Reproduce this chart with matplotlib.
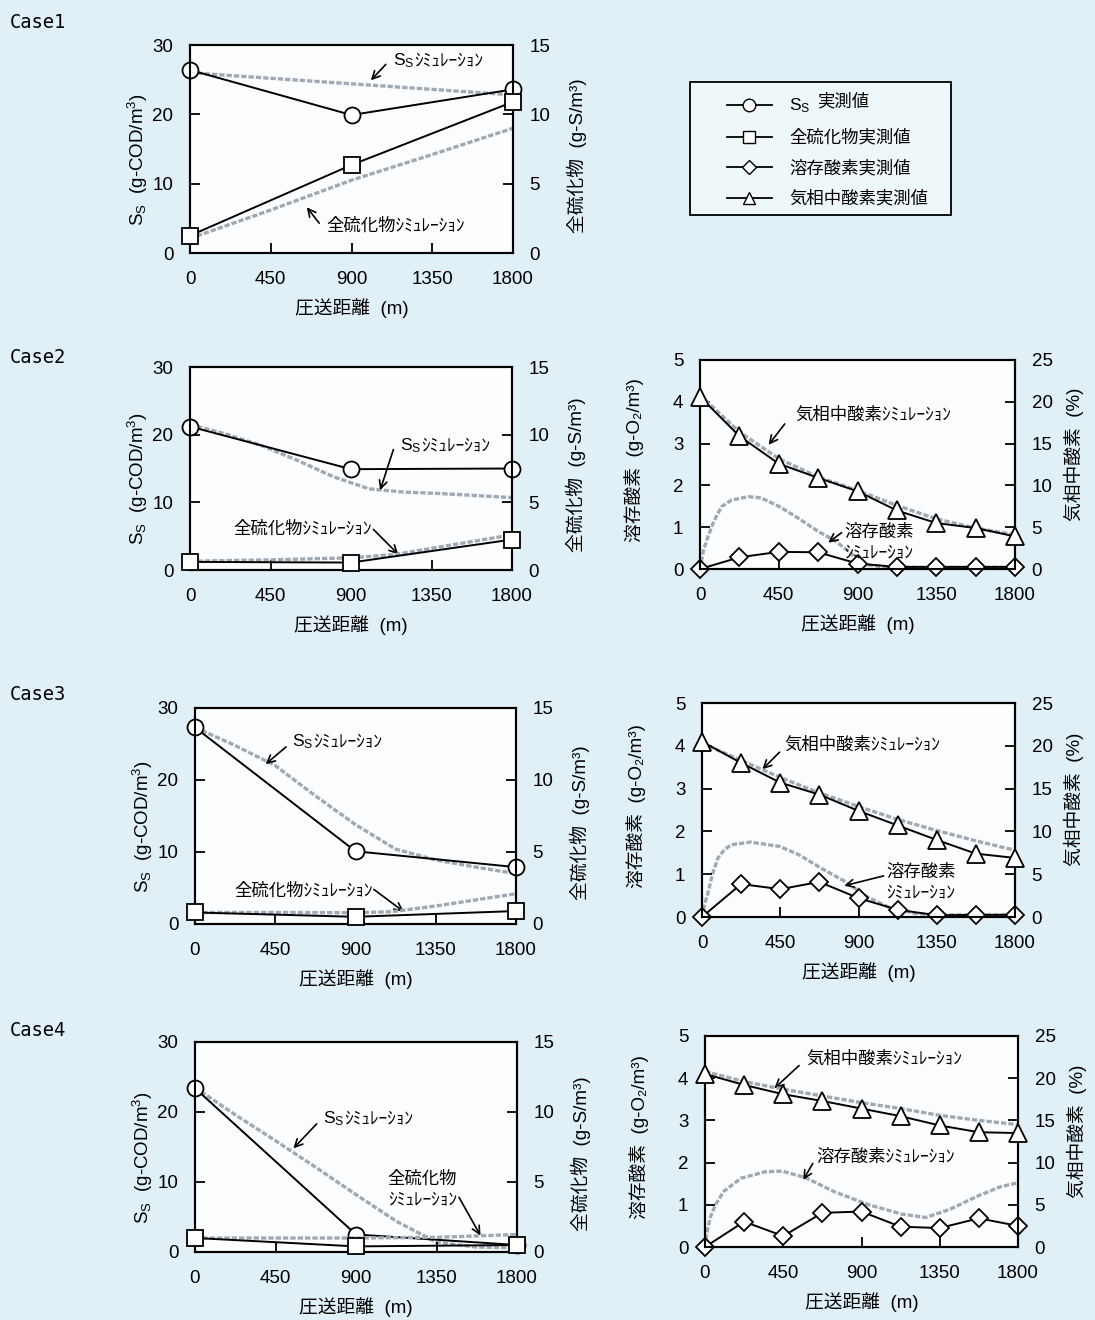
import matplotlib
matplotlib.use("Agg")
import matplotlib.pyplot as plt
from matplotlib.lines import Line2D
from matplotlib.patches import Rectangle
from matplotlib.offsetbox import TextArea, HPacker, VPacker, AnnotationBbox

plt.rcParams['font.family'] = ['Liberation Sans', 'Noto Sans CJK JP', 'DejaVu Sans']
plt.rcParams['mathtext.fontset'] = 'custom'
plt.rcParams['mathtext.rm'] = 'Liberation Sans'
plt.rcParams['mathtext.it'] = 'Liberation Sans:italic'
plt.rcParams['mathtext.bf'] = 'Liberation Sans:bold'
plt.rcParams['mathtext.default'] = 'rm'

# ---- data ----
x3 = [0, 900, 1800]
x9 = [0, 225, 450, 675, 900, 1125, 1350, 1575, 1800]

# Case1
c1_ss = [26.4, 19.9, 23.6]
c1_sulf = [1.25, 6.35, 10.9]
c1_ss_sim_x = [0, 450, 900, 1350, 1800]
c1_ss_sim = [26.0, 25.2, 24.4, 23.6, 22.8]
c1_sulf_sim_x = [0, 450, 900, 1350, 1800]
c1_sulf_sim = [1.05, 3.1, 5.25, 7.1, 9.0]

# Case2
c2_ss = [21.2, 14.9, 15.0]
c2_sulf = [0.6, 0.55, 2.25]
c2_ss_sim_x = [0, 200, 400, 600, 800, 1000, 1200, 1400, 1600, 1800]
c2_ss_sim = [21.5, 20.1, 18.4, 16.2, 13.8, 12.0, 11.5, 11.3, 11.0, 10.7]
c2_sulf_sim_x = [0, 450, 900, 1150, 1350, 1800]
c2_sulf_sim = [0.65, 0.75, 0.9, 1.15, 1.6, 2.6]
c2_do = [0, 0.28, 0.41, 0.40, 0.13, 0.05, 0.05, 0.05, 0.05]
c2_gas = [20.6, 15.9, 12.6, 10.9, 9.3, 7.0, 5.5, 4.9, 3.9]
c2_gas_sim = [20.8, 16.4, 13.2, 11.0, 9.4, 7.6, 6.0, 4.9, 4.1]
c2_do_sim_x = [0, 20, 45, 80, 123, 180, 279, 350, 455, 560, 679, 767, 850, 903, 960, 1050, 1200, 1800]
c2_do_sim = [0, 0.45, 0.77, 1.15, 1.49, 1.65, 1.73, 1.70, 1.49, 1.22, 0.89, 0.69, 0.42, 0.22, 0.10, 0.05, 0.04, 0.04]

# Case3
c3_ss = [27.3, 10.1, 7.9]
c3_sulf = [0.8, 0.5, 0.9]
c3_ss_sim_x = [0, 225, 450, 675, 900, 1125, 1350, 1575, 1800]
c3_ss_sim = [27.3, 24.8, 22.0, 17.8, 13.8, 10.4, 8.9, 7.9, 7.0]
c3_sulf_sim_x = [0, 450, 900, 1100, 1350, 1800]
c3_sulf_sim = [0.8, 0.8, 0.78, 0.85, 1.25, 2.1]
c3_do = [0, 0.77, 0.65, 0.82, 0.44, 0.17, 0.04, 0.05, 0.05]
c3_gas = [20.5, 18.0, 15.7, 14.3, 12.4, 10.7, 9.0, 7.4, 6.9]
c3_gas_sim = [20.3, 18.3, 16.3, 14.5, 12.9, 11.4, 10.1, 8.9, 7.8]
c3_do_sim_x = [0, 15, 33, 60, 92, 130, 171, 279, 446, 560, 681, 818, 955, 1073, 1230, 1400, 1800]
c3_do_sim = [0, 0.3, 0.54, 1.0, 1.38, 1.58, 1.69, 1.75, 1.65, 1.45, 1.15, 0.84, 0.46, 0.23, 0.08, 0.05, 0.05]

# Case4
c4_ss = [23.4, 2.5, 1.0]
c4_sulf = [1.0, 0.4, 0.5]
c4_ss_sim_x = [0, 225, 450, 675, 900, 1125, 1350, 1575, 1800]
c4_ss_sim = [23.5, 19.6, 15.9, 12.1, 8.2, 4.4, 1.4, 0.7, 0.6]
c4_sulf_sim_x = [0, 900, 1350, 1800]
c4_sulf_sim = [1.0, 1.0, 1.05, 1.25]
c4_do = [0, 0.60, 0.26, 0.81, 0.84, 0.48, 0.45, 0.68, 0.50]
c4_gas = [20.5, 19.2, 18.1, 17.3, 16.4, 15.5, 14.4, 13.6, 13.5]
c4_gas_sim = [20.8, 19.6, 18.7, 17.9, 17.1, 16.4, 15.6, 15.0, 14.5]
c4_do_sim_x = [0, 12, 30, 60, 108, 207, 344, 443, 580, 738, 934, 1131, 1269, 1407, 1564, 1701, 1800]
c4_do_sim = [0, 0.35, 0.70, 1.0, 1.32, 1.63, 1.78, 1.80, 1.64, 1.32, 1.01, 0.78, 0.70, 0.89, 1.20, 1.43, 1.52]

xticks = [0, 450, 900, 1350, 1800]
SIM = 'ｼﾐｭﾚｰｼｮﾝ'

# ---- figure ----
W, H = 1095, 1320
BG = '#e1f0f6'
fig = plt.figure(figsize=(W / 100, H / 100), dpi=100, facecolor=BG)

sim_kw = dict(color='#9fa9b2', lw=2.4, ls=(0, (1.6, 0.6)), zorder=1)
meas_kw = dict(color='black', lw=1.4, mfc='white', mec='black', mew=1.3, clip_on=False, zorder=5)
arrow_kw = dict(arrowstyle='->', color='black', lw=1.2, mutation_scale=14, shrinkA=0, shrinkB=0)
FS = 13.5
NFS = 12.5


def add_ax(l, t, r, b):
    ax = fig.add_axes([l / W, 1 - b / H, (r - l) / W, (b - t) / H])
    ax.set_facecolor('#fbfdfe')
    return ax


def style(ax, ax2, h_px):
    for a in (ax, ax2):
        for s in a.spines.values():
            s.set_linewidth(1.5)
        a.tick_params(axis='y', direction='in', length=7, width=1.3, labelsize=FS, pad=12)
    ax.tick_params(axis='x', direction='in', length=7, width=1.3, labelsize=FS, pad=13)
    ax.set_xlim(0, 1800)
    ax.set_xticks(xticks)
    ax.set_xlabel('圧送距離  (m)', fontsize=FS)
    ax.xaxis.set_label_coords(0.5, -45 / h_px)


def note(ax, parts, txy, tail, tip):
    # parts: list of lines, each line a list of text pieces
    lines = []
    for line in parts:
        kids = [TextArea(t, textprops=dict(fontsize=NFS)) for t in line]
        lines.append(HPacker(children=kids, align='baseline', pad=0, sep=0))
    box = VPacker(children=lines, align='left', pad=0, sep=4)
    ab = AnnotationBbox(box, txy, xycoords='data', box_alignment=(0, 0.5), frameon=False, pad=0,
                        annotation_clip=False, zorder=6)
    ax.add_artist(ab)
    ax.annotate('', xy=tip, xytext=tail, arrowprops=arrow_kw, zorder=6)


def left_panel(box, ss, sulf, ssx, sss, sfx, sfs):
    ax = add_ax(*box)
    h = box[3] - box[1]
    w = box[2] - box[0]
    ax2 = ax.twinx()
    ax.plot(ssx, sss, **sim_kw)
    ax2.plot(sfx, sfs, **sim_kw)
    ax.plot(x3, ss, marker='o', ms=11.5, **meas_kw)
    ax2.plot(x3, sulf, marker='s', ms=11.5, **meas_kw)
    ax.set_ylim(0, 30)
    ax.set_yticks([0, 10, 20, 30])
    ax2.set_ylim(0, 15)
    ax2.set_yticks([0, 5, 10, 15])
    style(ax, ax2, h)
    ax.set_ylabel('S$_S$  (g-COD/m$^3$)', fontsize=FS)
    ax.yaxis.set_label_coords(-40 / w, 0.45)
    ax2.set_ylabel('全硫化物  (g-S/m³)', fontsize=FS)
    ax2.yaxis.set_label_coords(1 + 54 / w, 0.47)
    return ax, ax2


def right_panel(box, do, gas, gas_sim, dox, dos):
    ax = add_ax(*box)
    h = box[3] - box[1]
    w = box[2] - box[0]
    ax2 = ax.twinx()
    ax.plot(dox, dos, **sim_kw)
    ax2.plot(x9, gas_sim, **sim_kw)
    ax.plot(x9, do, marker='D', ms=9, **meas_kw)
    ax2.plot(x9, gas, marker='^', ms=12.5, **meas_kw)
    ax.set_ylim(0, 5)
    ax.set_yticks(range(6))
    ax2.set_ylim(0, 25)
    ax2.set_yticks(range(0, 30, 5))
    style(ax, ax2, h)
    ax.set_ylabel('溶存酸素  (g-O₂/m³)', fontsize=FS)
    ax.yaxis.set_label_coords(-56 / w, 0.52)
    ax2.set_ylabel('気相中酸素  (%)', fontsize=FS)
    ax2.yaxis.set_label_coords(1 + 49 / w, 0.55)
    return ax, ax2


# Case1
a, _ = left_panel((190, 45, 513, 253), c1_ss, c1_sulf, c1_ss_sim_x, c1_ss_sim, c1_sulf_sim_x, c1_sulf_sim)
note(a, [['S$_S$', SIM]], (1131, 27.7), (1091, 27.2), (1008, 24.9))
note(a, [['全硫化物' + SIM]], (758, 4.0), (720, 4.3), (651, 6.6))

# Case2
a, _ = left_panel((190, 367, 512, 570), c2_ss, c2_sulf, c2_ss_sim_x, c2_ss_sim, c2_sulf_sim_x, c2_sulf_sim)
note(a, [['S$_S$', SIM]], (1174, 18.4), (1137, 17.8), (1063, 11.8))
note(a, [['全硫化物' + SIM]], (245, 6.1), (1025, 6.0), (1165, 2.3))
a, _ = right_panel((700, 360, 1015, 569), c2_do, c2_gas, c2_gas_sim, c2_do_sim_x, c2_do_sim)
note(a, [['気相中酸素' + SIM]], (542, 3.68), (484, 3.47), (392, 2.97))
note(a, [['溶存酸素'], [SIM]], (825, 0.65), (809, 0.87), (733, 0.63))

# Case3
a, _ = left_panel((195, 708, 516, 924), c3_ss, c3_sulf, c3_ss_sim_x, c3_ss_sim, c3_sulf_sim_x, c3_sulf_sim)
note(a, [['S$_S$', SIM]], (543, 25.3), (511, 24.6), (396, 22.2))
note(a, [['全硫化物' + SIM]], (219, 4.7), (1003, 4.8), (1171, 1.7))
a, _ = right_panel((702, 703, 1015, 917), c3_do, c3_gas, c3_gas_sim, c3_do_sim_x, c3_do_sim)
note(a, [['気相中酸素' + SIM]], (475, 4.03), (446, 3.85), (347, 3.45))
note(a, [['溶存酸素'], [SIM]], (1058, 0.82), (1044, 0.96), (818, 0.73))

# Case4
a, _ = left_panel((195, 1042, 517, 1252), c4_ss, c4_sulf, c4_ss_sim_x, c4_ss_sim, c4_sulf_sim_x, c4_sulf_sim)
note(a, [['S$_S$', SIM]], (717, 19.0), (680, 18.3), (550, 14.8))
note(a, [['全硫化物'], [SIM]], (1078, 9.05), (1476, 7.8), (1596, 2.35))
a, _ = right_panel((705, 1036, 1018, 1247), c4_do, c4_gas, c4_gas_sim, c4_do_sim_x, c4_do_sim)
note(a, [['気相中酸素' + SIM]], (580, 4.46), (541, 4.30), (399, 3.76))
note(a, [['溶存酸素' + SIM]], (639, 2.13), (620, 1.98), (565, 1.59))

# case titles
for label, y in [('Case1', 22), ('Case2', 357), ('Case3', 694), ('Case4', 1030)]:
    fig.text(10 / W, 1 - y / H, label, fontsize=13.5, va='center', ha='left', family='DejaVu Sans Mono')

# legend box
fig.patches.append(Rectangle((690 / W, 1 - 215 / H), 261 / W, 133 / H, transform=fig.transFigure,
                             facecolor='#eef7fa', edgecolor='black', lw=1.3))
handles = [
    Line2D([], [], marker='o', ms=9, color='black', lw=1.3, mfc='white', mec='black'),
    Line2D([], [], marker='s', ms=9, color='black', lw=1.3, mfc='white', mec='black'),
    Line2D([], [], marker='D', ms=7, color='black', lw=1.3, mfc='white', mec='black'),
    Line2D([], [], marker='^', ms=9, color='black', lw=1.3, mfc='white', mec='black'),
]
labels = ['S$_S$', '全硫化物実測値', '溶存酸素実測値', '気相中酸素実測値']
fig.legend(handles, labels, loc='upper left', bbox_to_anchor=(718 / W, 1 - 88 / H), frameon=False,
           fontsize=12.5, handlelength=2.6, handletextpad=1.0, labelspacing=0.8, borderpad=0)
fig.text(817 / W, 1 - 101 / H, '実測値', fontsize=12.5, va='center', ha='left')

plt.savefig('out.png', dpi=100, facecolor=BG)
